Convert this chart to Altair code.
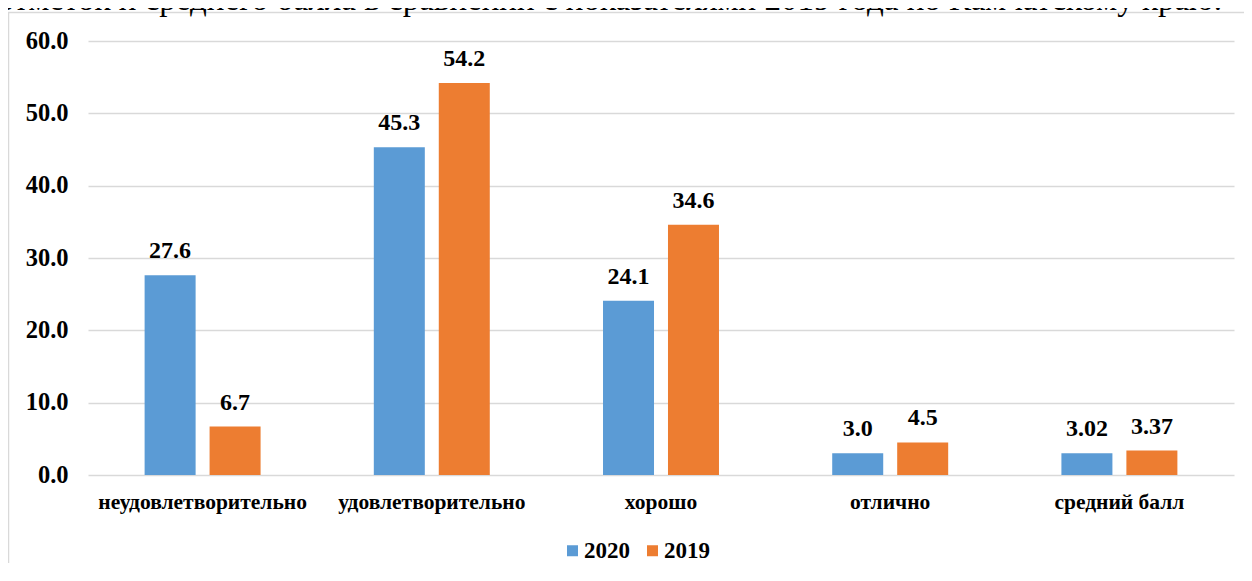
import altair as alt
import pandas as pd

categories = ["неудовлетворительно", "удовлетворительно", "хорошо", "отлично", "средний балл"]
series = ["2020", "2019"]
values_2020 = [27.6, 45.3, 24.1, 3.0, 3.02]
values_2019 = [6.7, 54.2, 34.6, 4.5, 3.37]
colors = ["#5B9BD5", "#ED7D31"]
y_ticks = [0, 10, 20, 30, 40, 50, 60]
caption = "отметок и среднего балла в сравнении с показателями 2019 года по Камчатскому краю."

rows = []
for s, vals in zip(series, [values_2020, values_2019]):
    for c, v in zip(categories, vals):
        lab = f"{v:.2f}" if c == "средний балл" else f"{v:.1f}"
        rows.append({"category": c, "year": s, "value": v, "label": lab})
df = pd.DataFrame(rows)

FONT = "Liberation Serif"
W, H = 1146, 434

x_enc = alt.X("category:N", sort=categories, title=None,
              scale=alt.Scale(paddingInner=0.494, paddingOuter=0.247),
              axis=alt.Axis(labelAngle=0, labelFont=FONT, labelFontSize=21.5,
                            labelFontWeight="bold", labelColor="black", labelLimit=0,
                            labelPadding=16, ticks=False, domain=False))
xo_enc = alt.XOffset("year:N", sort=series,
                     scale=alt.Scale(paddingInner=0.215, paddingOuter=0))
y_enc = alt.Y("value:Q", title=None,
              scale=alt.Scale(domain=[0, 60], nice=False),
              axis=alt.Axis(values=y_ticks, format=".1f", labelFont=FONT,
                            labelFontSize=24.5, labelFontWeight="bold",
                            labelColor="black", labelPadding=20, ticks=False,
                            domain=False, gridColor="#d9d9d9", gridWidth=1.5))
color_enc = alt.Color("year:N", sort=series,
                      scale=alt.Scale(domain=series, range=colors),
                      legend=alt.Legend(title=None, orient="none", direction="horizontal",
                                        legendX=473, legendY=498,
                                        symbolType="square", symbolSize=121,
                                        symbolStrokeWidth=0, labelOffset=0,
                                        columnPadding=11, labelFont=FONT,
                                        labelFontSize=23, labelFontWeight="bold",
                                        labelColor="black"))

base = alt.Chart(df)
bars = base.mark_bar().encode(x=x_enc, xOffset=xo_enc, y=y_enc, color=color_enc)
texts = base.mark_text(font=FONT, fontSize=24, fontWeight="bold", color="black",
                       baseline="alphabetic", dy=-17).encode(
    x=alt.X("category:N", sort=categories), xOffset=alt.XOffset("year:N", sort=series),
    y="value:Q", text="label:N")

one = pd.DataFrame({"t": [caption]})
frame = alt.Chart(one).mark_rect(fill=None, stroke="#d9d9d9", strokeWidth=1.5).encode(
    x=alt.value(-79.5), x2=alt.value(1400), y=alt.value(-28.5), y2=alt.value(800))
cap = alt.Chart(one).mark_text(font=FONT, fontSize=33, align="left",
                               baseline="alphabetic", color="black").encode(
    x=alt.value(-90), y=alt.value(-31.5), text="t:N")

chart = alt.layer(frame, cap, bars, texts).properties(
    width=W, height=H,
    autosize=alt.AutoSizeParams(type="none"),
    padding={"left": 80, "top": 33, "right": 10, "bottom": 88},
).configure_view(stroke=None)

chart.save("out.html", embed_options={"renderer": "svg", "actions": False})
